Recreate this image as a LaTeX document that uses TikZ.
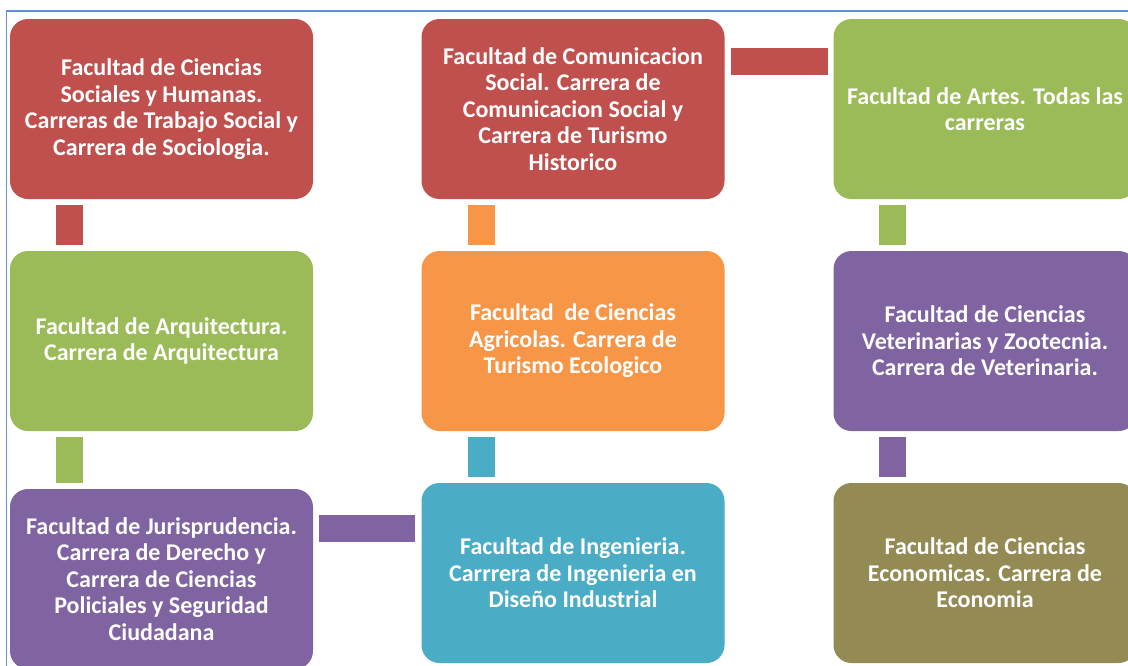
\documentclass[tikz,border=0pt]{standalone}
\usepackage{fontspec}
\setmainfont{Carlito}
\definecolor{cred}{HTML}{C0504D}
\definecolor{cgreen}{HTML}{9BBB59}
\definecolor{corange}{HTML}{F79646}
\definecolor{cpurple}{HTML}{8064A2}
\definecolor{cblue}{HTML}{4BACC6}
\definecolor{colive}{HTML}{948A54}
\definecolor{cframe}{HTML}{5E92D4}
\tikzset{
  facbox/.style={rounded corners=18pt, minimum width=303pt, minimum height=180pt,
    inner sep=0pt, text=white, align=center,
    font=\fontsize{24}{26.5}\selectfont\bfseries},
  bar/.style={line width=27pt, shorten >=6pt, shorten <=6pt}
}
\begin{document}
\begin{tikzpicture}[x=1pt,y=1pt]
\useasboundingbox (0,0) rectangle (1128,-665);
\clip (0,0) rectangle (1128,-665);
\fill[white] (0,0) rectangle (1128,-665);
\draw[cframe, line width=1.5pt] (6.5,-700) -- (6.5,-11) -- (1200,-11);
% row 1
\node[facbox, fill=cred] (b1) at (161.5,-109) {Facultad de Ciencias\\Sociales y Humanas.\\Carreras de Trabajo Social y\\Carrera de Sociologia.};
\node[facbox, fill=cred] (b2) at (573,-109) {Facultad de Comunicacion\\Social. Carrera de\\Comunicacion Social y\\Carrera de Turismo\\Historico};
\node[facbox, fill=cgreen] (b3) at (985,-109) {Facultad de Artes. Todas las\\carreras};
% row 2
\node[facbox, fill=cgreen] (b4) at (161.5,-341) {Facultad de Arquitectura.\\Carrera de Arquitectura};
\node[facbox, fill=corange] (b5) at (573,-341) {Facultad\ \ de Ciencias\\Agricolas. Carrera de\\Turismo Ecologico};
\node[facbox, fill=cpurple] (b6) at (985,-341) {Facultad de Ciencias\\Veterinarias y Zootecnia.\\Carrera de Veterinaria.};
% row 3
\node[facbox, fill=cpurple] (b7) at (161.5,-579) {Facultad de Jurisprudencia.\\Carrera de Derecho y\\Carrera de Ciencias\\Policiales y Seguridad\\Ciudadana};
\node[facbox, fill=cblue] (b8) at (573,-573) {Facultad de Ingenieria.\\Carrrera de Ingenieria en\\Diseño Industrial};
\node[facbox, fill=colive] (b9) at (985,-573) {Facultad de Ciencias\\Economicas. Carrera de\\Economia};
% connectors
\draw[bar, cred] ([xshift=-92pt]b1.south) -- ([xshift=-92pt]b4.north);
\draw[bar, corange] ([xshift=-91.5pt]b2.south) -- ([xshift=-91.5pt]b5.north);
\draw[bar, cgreen] ([xshift=-92.5pt]b3.south) -- ([xshift=-92.5pt]b6.north);
\draw[bar, cgreen] ([xshift=-92pt]b4.south) -- ([xshift=-92pt]b7.north);
\draw[bar, cblue] ([xshift=-91.5pt]b5.south) -- ([xshift=-91.5pt]b8.north);
\draw[bar, cpurple] ([xshift=-92.5pt]b6.south) -- ([xshift=-92.5pt]b9.north);
\draw[bar, cred, shorten >=5pt] ([yshift=47.5pt]b2.east) -- ([yshift=47.5pt]b2.east -| b3.west);
\draw[bar, cpurple] ([yshift=50.5pt]b7.east) -- ([yshift=50.5pt]b7.east -| b8.west);
\end{tikzpicture}
\end{document}
